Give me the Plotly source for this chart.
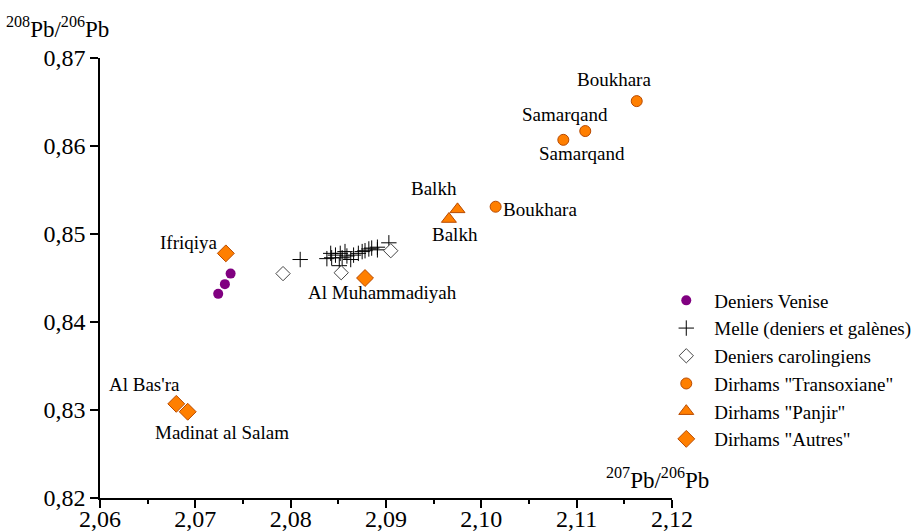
import plotly.graph_objects as go

# Deniers Venise
venise_x = [2.0724, 2.0731, 2.0737]
venise_y = [0.8432, 0.8443, 0.8455]

# Melle (deniers et galènes)
melle_x = [2.0810, 2.0838, 2.0842, 2.0843, 2.0847, 2.0852, 2.0854, 2.0851, 2.0857, 2.0859,
           2.0863, 2.0866, 2.0871, 2.0875, 2.0878, 2.0882, 2.0885, 2.0891, 2.0891, 2.0903]
melle_y = [0.8471, 0.8472, 0.8478, 0.8473, 0.8476, 0.8478, 0.8473, 0.8464, 0.8480, 0.8475,
           0.8471, 0.8476, 0.8478, 0.8480, 0.8481, 0.8483, 0.8484, 0.8485, 0.8482, 0.8490]

# Deniers carolingiens
carol_x = [2.0792, 2.0853, 2.0905]
carol_y = [0.8455, 0.8456, 0.8481]

# Dirhams "Transoxiane"
trans_x = [2.1015, 2.1086, 2.1109, 2.1163]
trans_y = [0.8531, 0.8607, 0.8617, 0.8651]

# Dirhams "Panjir"
panjir_x = [2.0966, 2.0975]
panjir_y = [0.8517, 0.8528]

# Dirhams "Autres"
autres_x = [2.0732, 2.0878, 2.0680, 2.0692]
autres_y = [0.8478, 0.8450, 0.8307, 0.8298]

# Point labels
label_text = ["Boukhara", "Samarqand", "Samarqand", "Boukhara", "Balkh", "Balkh",
              "Ifriqiya", "Al Muhammadiyah", "Al Bas'ra", "Madinat al Salam"]
label_x = [2.1139, 2.1088, 2.1106, 2.1062, 2.0950, 2.0972, 2.0693, 2.0896, 2.0647, 2.0728]
label_y = [0.8676, 0.8636, 0.8591, 0.8528, 0.8552, 0.8499, 0.8490, 0.8434, 0.8329, 0.8275]

FONT = "Liberation Serif"
ORANGE = "#FF7F00"
ORANGE_LINE = "#B84A00"

fig = go.Figure()
fig.add_trace(go.Scatter(x=venise_x, y=venise_y, mode="markers", name="Deniers Venise",
                         marker=dict(symbol="circle", size=10, color="#800080",
                                     line=dict(width=0))))
fig.add_trace(go.Scatter(x=melle_x, y=melle_y, mode="markers", name="Melle (deniers et galènes)",
                         marker=dict(symbol="cross-thin", size=11, color="black",
                                     line=dict(width=1, color="black"))))
fig.add_trace(go.Scatter(x=carol_x, y=carol_y, mode="markers", name="Deniers carolingiens",
                         marker=dict(symbol="diamond", size=11, color="white",
                                     line=dict(width=1, color="#444444"))))
fig.add_trace(go.Scatter(x=trans_x, y=trans_y, mode="markers", name="Dirhams \"Transoxiane\"",
                         marker=dict(symbol="circle", size=11, color=ORANGE,
                                     line=dict(width=1, color=ORANGE_LINE))))
fig.add_trace(go.Scatter(x=panjir_x, y=panjir_y, mode="markers", name="Dirhams \"Panjir\"",
                         marker=dict(symbol="triangle-up", size=13, color=ORANGE,
                                     line=dict(width=1, color=ORANGE_LINE))))
fig.add_trace(go.Scatter(x=autres_x, y=autres_y, mode="markers", name="Dirhams \"Autres\"",
                         marker=dict(symbol="diamond", size=13, color=ORANGE,
                                     line=dict(width=1, color=ORANGE_LINE))))

for t, x, y in zip(label_text, label_x, label_y):
    fig.add_annotation(x=x, y=y, text=t, showarrow=False, xref="x", yref="y",
                       xanchor="center", yanchor="middle",
                       font=dict(family=FONT, size=19, color="black"))

fig.add_annotation(x=-0.075, y=1.07, xref="paper", yref="paper", showarrow=False,
                   xanchor="center", yanchor="middle",
                   text="<sup>208</sup>Pb/<sup>206</sup>Pb",
                   font=dict(family=FONT, size=23, color="black"))
fig.add_annotation(x=0.975, y=0.045, xref="paper", yref="paper", showarrow=False,
                   xanchor="center", yanchor="middle",
                   text="<sup>207</sup>Pb/<sup>206</sup>Pb",
                   font=dict(family=FONT, size=23, color="black"))

fig.update_layout(
    width=917, height=532,
    margin=dict(l=100, r=245, t=58, b=34, autoexpand=False),
    paper_bgcolor="white", plot_bgcolor="white",
    separators=", ",
    font=dict(family=FONT, size=19, color="black"),
    showlegend=True,
    legend=dict(x=0.976, y=0.492, xanchor="left", yanchor="top",
                font=dict(family=FONT, size=19, color="black"),
                itemwidth=46,
                tracegroupgap=0, itemsizing="trace", bgcolor="rgba(0,0,0,0)"),
    xaxis=dict(range=[2.06, 2.12], dtick=0.01, tick0=2.06, tickformat=".2f",
               automargin=False, ticklabelstandoff=-10,
               showline=True, linecolor="black", linewidth=1.5, showgrid=False,
               zeroline=False, ticks="outside", ticklen=8, tickwidth=1.5, tickcolor="black",
               tickfont=dict(family=FONT, size=24, color="black"),
               minor=dict(dtick=0.005, ticks="outside", ticklen=4, tickwidth=1.5,
                          tickcolor="black", showgrid=False)),
    yaxis=dict(range=[0.82, 0.87], dtick=0.01, tick0=0.82, tickformat=".2f",
               automargin=False,
               showline=True, linecolor="black", linewidth=1.5, showgrid=False,
               zeroline=False, ticks="outside", ticklen=8, tickwidth=1.5, tickcolor="black",
               tickfont=dict(family=FONT, size=24, color="black")),
)

fig.write_html("out.html", config={"displayModeBar": False},
               post_script="document.body.style.margin='0px';document.body.style.overflow='hidden';")
